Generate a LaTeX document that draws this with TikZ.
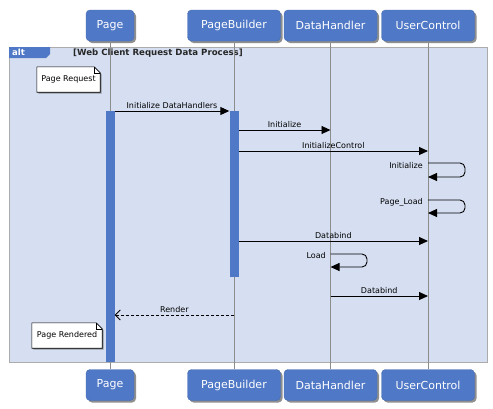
\documentclass[tikz,border=0pt]{standalone}
\usepackage{fontspec}
\setmainfont{DejaVu Sans}
\usetikzlibrary{arrows.meta, positioning, calc, shadows}
\definecolor{umlblue}{RGB}{79,120,198}
\definecolor{framebg}{RGB}{214,223,241}
\definecolor{framegray}{RGB}{172,172,172}
\definecolor{lifegray}{RGB}{140,140,140}

\begin{document}
\begin{tikzpicture}[x=1pt, y=-1pt,
    actor/.style={rectangle, rounded corners=4pt, fill=umlblue, draw=umlblue!90!black,
        text=white, font=\fontsize{11}{13}\selectfont, minimum height=31pt,
        minimum width=93pt, inner sep=0pt,
        drop shadow={shadow xshift=2pt, shadow yshift=-2pt, opacity=0.55, fill=black!80}},
    act/.style={rectangle, fill=umlblue, minimum width=9pt, inner sep=0pt, anchor=north},
    lifeline/.style={draw=lifegray, line width=0.9pt},
    msg/.style={-{Triangle[length=9pt,width=8pt]}, line width=0.9pt},
    reply/.style={-{Straight Barb[length=5pt,width=10pt]}, line width=0.9pt,
        dash pattern=on 3pt off 2pt},
    lbl/.style={font=\fontsize{8}{9}\selectfont, inner sep=1.5pt, above},
    selflbl/.style={font=\fontsize{8}{9}\selectfont, inner sep=0pt, anchor=east},
    note/.style={font=\fontsize{8}{9}\selectfont, minimum height=25pt, inner sep=0pt},
    notebox/.style={draw=black, fill=white, line width=0.6pt,
        drop shadow={shadow xshift=1.5pt, shadow yshift=-1.5pt, opacity=0.5, fill=black!70}}
  ]
    \useasboundingbox[fill=white] (0,0) rectangle (493,408);

    % participants, top and bottom
    \node[actor, minimum width=48pt] (page) at (110,25.5) {Page};
    \node[actor] (builder) at (234,25.5) {PageBuilder};
    \node[actor] (handler) at (330.5,25.5) {DataHandler};
    \node[actor] (control) at (428,25.5) {UserControl};
    \node[actor, minimum width=48pt] (pageB) at (110,385) {Page};
    \node[actor] (builderB) at (234,385) {PageBuilder};
    \node[actor] (handlerB) at (330.5,385) {DataHandler};
    \node[actor] (controlB) at (428,385) {UserControl};

    % alt frame
    \draw[fill=framebg, draw=framegray, line width=1pt] (9,47) rectangle (487,362);
    \fill[umlblue] (9,47) -- (50,47) -- (50,54) -- (46,58) -- (9,58) -- cycle;
    \node[anchor=west, text=white, font=\bfseries\fontsize{8.5}{9}\selectfont, inner sep=0pt] (altTag) at (12,52.5) {alt};
    \node[font=\bfseries\fontsize{8.6}{9}\selectfont, text=black!85, inner sep=0pt] (altCond) at (158,53.5) {[Web Client Request Data Process]};

    % lifelines
    \draw[lifeline] (page) -- (pageB);
    \draw[lifeline] (builder) -- (builderB);
    \draw[lifeline] (handler) -- (handlerB);
    \draw[lifeline] (control) -- (controlB);

    % activations
    \node[act, minimum height=251pt] (actP) at (110,111) {};
    \node[act, minimum height=166pt] (actB) at (234,111) {};

    % messages
    \draw[msg] (actP.north east) -- (actB.north west) node[lbl, midway] {Initialize DataHandlers};
    \draw[msg] (actB.east |- 0,130) -- (handler |- 0,130) node[lbl, midway] {Initialize};
    \draw[msg] (actB.east |- 0,151) -- (control |- 0,151) node[lbl, midway] {InitializeControl};
    \draw[msg, rounded corners=5pt] (control |- 0,163) -- (465,163) -- (465,177) -- (control |- 0,177);
    \node[selflbl] (initLbl) at (423,166) {Initialize};
    \draw[msg, rounded corners=5pt] (control |- 0,200) -- (465,200) -- (465,213) -- (control |- 0,213);
    \node[selflbl] (loadLbl) at (423,202) {Page\_Load};
    \draw[msg] (actB.east |- 0,241) -- (control |- 0,241) node[lbl, midway] {Databind};
    \draw[msg, rounded corners=5pt] (handler |- 0,254) -- (367,254) -- (367,267) -- (handler |- 0,267);
    \node[selflbl] (dhLoadLbl) at (326,256) {Load};
    \draw[msg] (handler |- 0,296) -- (control |- 0,296) node[lbl, midway] {Databind};
    \draw[reply] (builder |- 0,315) -- (actP.east |- 0,315) node[lbl, midway] {Render};

    % notes
    \node[note, minimum width=63pt] (reqNote) at (68.5,79.5) {};
    \draw[notebox] (reqNote.north west) -- ([xshift=-6pt]reqNote.north east) -- ([yshift=-6pt]reqNote.north east)
        -- (reqNote.south east) -- (reqNote.south west) -- cycle;
    \draw[line width=0.6pt] ([xshift=-6pt]reqNote.north east) |- ([yshift=-6pt]reqNote.north east);
    \node[note, minimum width=63pt] at (reqNote) {Page Request};
    \node[note, minimum width=70pt] (doneNote) at (67,335.5) {};
    \draw[notebox] (doneNote.north west) -- ([xshift=-6pt]doneNote.north east) -- ([yshift=-6pt]doneNote.north east)
        -- (doneNote.south east) -- (doneNote.south west) -- cycle;
    \draw[line width=0.6pt] ([xshift=-6pt]doneNote.north east) |- ([yshift=-6pt]doneNote.north east);
    \node[note, minimum width=70pt] at (doneNote) {Page Rendered};
\end{tikzpicture}
\end{document}
